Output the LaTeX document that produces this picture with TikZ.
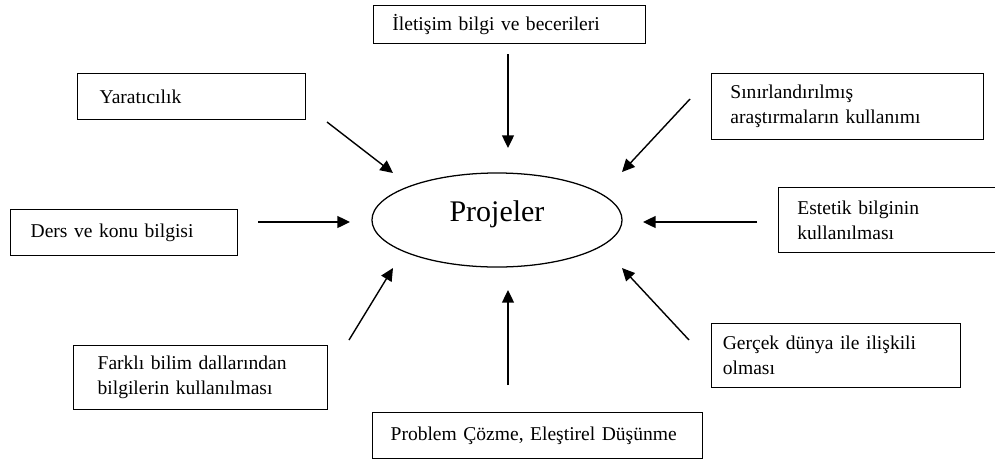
\documentclass[tikz,border=0pt]{standalone}
\usepackage{fontspec}
\setmainfont{Liberation Serif}
\usetikzlibrary{arrows.meta,shapes.geometric}
\tikzset{
  flow/.style={-{Triangle[length=9pt,width=8.5pt]}, line width=1pt},
  kutu/.style={draw, line width=0.9pt, anchor=north west, inner xsep=#1, inner ysep=0pt,
    align=left, font=\fontsize{13.9}{17.6}\selectfont},
  kutu/.default=0.5cm,
  merkez/.style={ellipse, draw, line width=0.9pt, inner sep=0pt,
    minimum width=6.25cm, minimum height=2.35cm, font=\fontsize{21.3}{24}\selectfont,
    text height=0.7em, text depth=0.55em},
}

\begin{document}
\begin{tikzpicture}[x=0.025cm,y=-0.025cm]
  \useasboundingbox (0,0) rectangle (995,462);
  \node[merkez] (proj) at (497,220) {Projeler};
  \node[kutu=0.47cm, text width=5.86cm, minimum height=0.95cm] (ile) at (373,5) {İletişim bilgi ve becerileri};
  \node[kutu=0.55cm, text width=4.6cm, minimum height=1.15cm] (yar) at (77,73) {Yaratıcılık};
  \node[kutu=0.47cm, text width=5.86cm, minimum height=1.65cm] (sin) at (711,73) {Sınırlandırılmış\\araştırmaların kullanımı};
  \node[kutu, text width=4.675cm, minimum height=1.15cm] (der) at (10,209) {Ders ve konu bilgisi};
  \node[kutu=0.47cm, text width=5.2cm, minimum height=1.625cm] (est) at (778,187) {Estetik bilginin\\kullanılması};
  \node[kutu=0.6cm, text width=5.15cm, minimum height=1.6cm] (far) at (73,345) {Farklı bilim dallarından\\bilgilerin kullanılması};
  \node[kutu=0.28cm, text width=5.665cm, minimum height=1.6cm] (ger) at (711,323) {Gerçek dünya ile ilişkili\\olması};
  \node[kutu=0.45cm, text width=7.35cm, minimum height=1.15cm] (pro) at (372,412) {Problem Çözme, Eleştirel Düşünme};
  \coordinate (ile-s) at (508,54);  \coordinate (ile-e) at (508,148);
  \coordinate (yar-s) at (327,122); \coordinate (yar-e) at (393,173);
  \coordinate (sin-s) at (690,99);  \coordinate (sin-e) at (622,172);
  \coordinate (der-s) at (258,222); \coordinate (der-e) at (350,222);
  \coordinate (est-s) at (757,222); \coordinate (est-e) at (643,222);
  \coordinate (far-s) at (349,340); \coordinate (far-e) at (393,268);
  \coordinate (ger-s) at (689,340); \coordinate (ger-e) at (622,268);
  \coordinate (pro-s) at (508,385); \coordinate (pro-e) at (508,290);
  \foreach \a in {ile,yar,sin,der,est,far,ger,pro}
    \draw[flow] (\a-s) -- (\a-e);
\end{tikzpicture}
\end{document}
